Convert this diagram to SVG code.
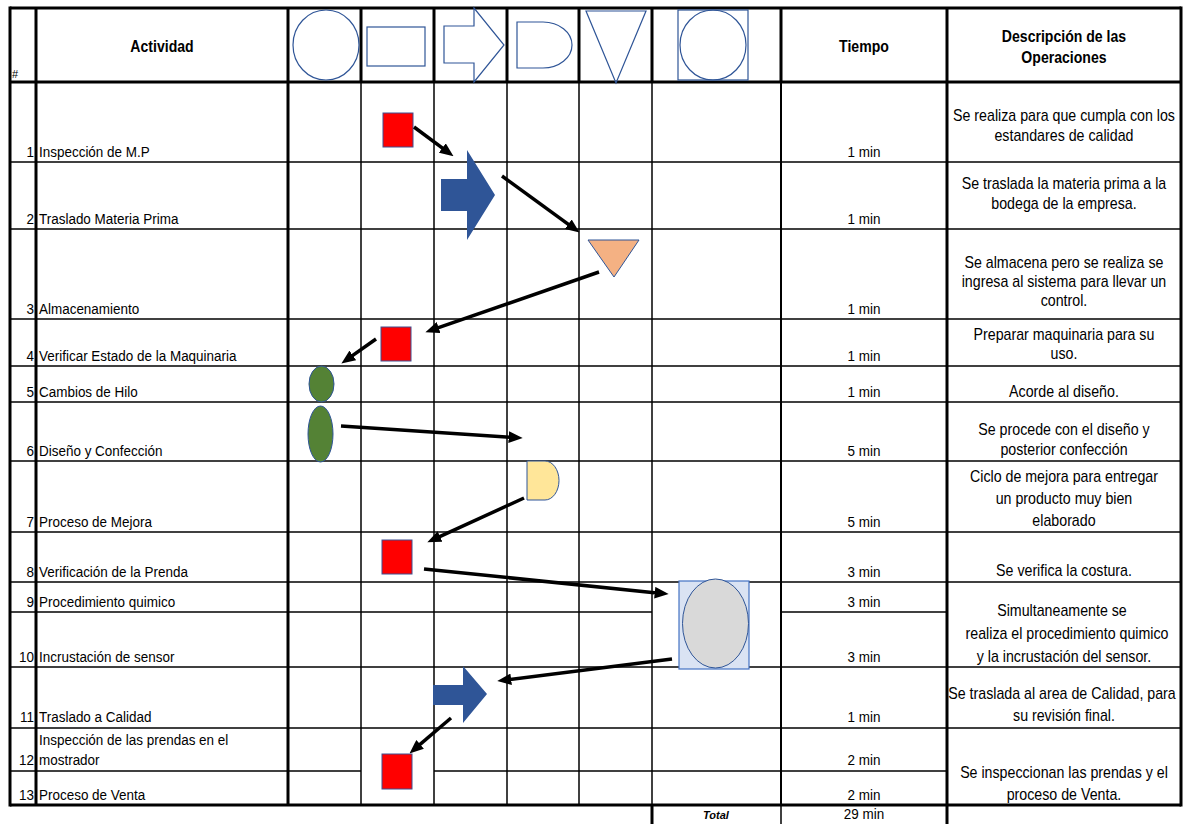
<svg xmlns="http://www.w3.org/2000/svg" width="1183" height="824" viewBox="0 0 1183 824">
<style>
.bg{fill:#ffffff}
.tk{stroke:#000;stroke-width:3;fill:none}
.md{stroke:#000;stroke-width:2;fill:none}
.tn{stroke:#000;stroke-width:1.5;fill:none}
.t{font-family:"Liberation Sans",Arial,sans-serif;font-size:15.3px;fill:#000}
.n{font-family:"Liberation Sans",Arial,sans-serif;font-size:15.3px;fill:#000;text-anchor:end}
.c{font-family:"Liberation Sans",Arial,sans-serif;font-size:15.3px;fill:#000;text-anchor:middle}
.d{font-family:"Liberation Sans",Arial,sans-serif;font-size:15.8px;fill:#000;text-anchor:middle}
.h{font-family:"Liberation Sans",Arial,sans-serif;font-size:16px;font-weight:bold;fill:#000;text-anchor:middle}
.sym{fill:none;stroke:#2F5597;stroke-width:1.2}
.red{fill:#FF0000;stroke:#3F4F8F;stroke-width:1}
.blu{fill:#2F5597;stroke:none}
.grn{fill:#548235;stroke:#2F5597;stroke-width:1}
.con{stroke:#000;stroke-width:3.5;fill:none;marker-end:url(#ah)}
</style>
<defs>
<marker id="ah" viewBox="0 0 12 10" refX="6" refY="5" markerWidth="4" markerHeight="3.33" orient="auto" markerUnits="strokeWidth">
<path d="M0,0 L12,5 L0,10 Z" fill="#000"/>
</marker>
</defs>
<rect class="bg" x="0" y="0" width="1183" height="824"/>

<g id="grid">
<line class="tn" x1="10" y1="162" x2="1181" y2="162"/>
<line class="tn" x1="10" y1="229" x2="1181" y2="229"/>
<line class="tn" x1="10" y1="319" x2="1181" y2="319"/>
<line class="tn" x1="10" y1="366" x2="1181" y2="366"/>
<line class="tn" x1="10" y1="402" x2="1181" y2="402"/>
<line class="tn" x1="10" y1="461" x2="1181" y2="461"/>
<line class="tn" x1="10" y1="532" x2="1181" y2="532"/>
<line class="tn" x1="10" y1="582" x2="1181" y2="582"/>
<line class="tn" x1="10" y1="612" x2="652" y2="612"/>
<line class="tn" x1="781" y1="612" x2="947" y2="612"/>
<line class="tn" x1="10" y1="667" x2="1181" y2="667"/>
<line class="tn" x1="10" y1="728" x2="1181" y2="728"/>
<line class="tn" x1="10" y1="771" x2="361" y2="771"/>
<line class="tn" x1="434" y1="771" x2="947" y2="771"/>
<line class="tn" x1="361" y1="82" x2="361" y2="805"/>
<line class="tn" x1="434" y1="82" x2="434" y2="805"/>
<line class="tn" x1="507" y1="82" x2="507" y2="805"/>
<line class="tn" x1="579" y1="82" x2="579" y2="805"/>
<line class="tn" x1="652" y1="82" x2="652" y2="805"/>
<line class="md" x1="781" y1="82" x2="781" y2="805"/>
<line class="tn" x1="781" y1="805" x2="781" y2="824"/>
<line class="tk" x1="361" y1="8" x2="361" y2="82"/>
<line class="tk" x1="434" y1="8" x2="434" y2="82"/>
<line class="tk" x1="507" y1="8" x2="507" y2="82"/>
<line class="tk" x1="579" y1="8" x2="579" y2="82"/>
<line class="tk" x1="652" y1="8" x2="652" y2="82"/>
<line class="tk" x1="781" y1="8" x2="781" y2="82"/>
<line class="tk" x1="652" y1="805" x2="652" y2="824"/>
<line class="tk" x1="10" y1="8" x2="1181" y2="8"/>
<line class="tk" x1="10" y1="82" x2="1181" y2="82"/>
<line class="tk" x1="10" y1="805" x2="1181" y2="805"/>
<line class="tk" x1="10" y1="6.5" x2="10" y2="806.5"/>
<line class="tk" x1="36" y1="8" x2="36" y2="805"/>
<line class="tk" x1="288" y1="8" x2="288" y2="805"/>
<line class="tk" x1="947" y1="8" x2="947" y2="824"/>
<line class="tk" x1="1181" y1="6.5" x2="1181" y2="806.5"/>
</g>

<g id="header">
<text x="12" y="78" style="font-family:'Liberation Sans',Arial,sans-serif;font-size:11px">#</text>
<g transform="scale(0.88 1)">
<text class="h" x="184.1" y="52">Actividad</text>
<text class="h" x="981.8" y="52">Tiempo</text>
<text class="h" x="1209.1" y="42">Descripción de las</text>
<text class="h" x="1209.1" y="63">Operaciones</text>
</g>
<ellipse class="sym" cx="326" cy="45" rx="33" ry="35"/>
<rect class="sym" x="367" y="27" width="58" height="39"/>
<polygon class="sym" points="444,26 474,26 474,8 504,45 474,82 474,63 444,63"/>
<path class="sym" d="M517,22 H543 A29,23 0 0 1 543,68 H517 Z"/>
<polygon class="sym" points="586,11 646,11 616,83"/>
<rect class="sym" x="678" y="10" width="70" height="70"/>
<ellipse class="sym" cx="713" cy="45" rx="33" ry="35"/>
</g>

<g id="activities" transform="scale(0.88 1)">
<text class="n" x="38.64" y="157">1</text><text class="t" x="44.32" y="157">Inspección de M.P</text>
<text class="n" x="38.64" y="224">2</text><text class="t" x="44.32" y="224">Traslado Materia Prima</text>
<text class="n" x="38.64" y="314">3</text><text class="t" x="44.32" y="314">Almacenamiento</text>
<text class="n" x="38.64" y="361">4</text><text class="t" x="44.32" y="361">Verificar Estado de la Maquinaria</text>
<text class="n" x="38.64" y="397">5</text><text class="t" x="44.32" y="397">Cambios de Hilo</text>
<text class="n" x="38.64" y="456">6</text><text class="t" x="44.32" y="456">Diseño y Confección</text>
<text class="n" x="38.64" y="527">7</text><text class="t" x="44.32" y="527">Proceso de Mejora</text>
<text class="n" x="38.64" y="577">8</text><text class="t" x="44.32" y="577">Verificación de la Prenda</text>
<text class="n" x="38.64" y="607">9</text><text class="t" x="44.32" y="607">Procedimiento quimico</text>
<text class="n" x="38.64" y="662">10</text><text class="t" x="44.32" y="662">Incrustación de sensor</text>
<text class="n" x="38.64" y="722">11</text><text class="t" x="44.32" y="722">Traslado a Calidad</text>
<text class="t" x="44.32" y="745">Inspección de las prendas en el</text>
<text class="n" x="38.64" y="765">12</text><text class="t" x="44.32" y="765">mostrador</text>
<text class="n" x="38.64" y="800">13</text><text class="t" x="44.32" y="800">Proceso de Venta</text>
</g>

<g id="times">
<g transform="scale(0.88 1)">
<text class="c" x="981.8" y="157">1 min</text>
<text class="c" x="981.8" y="224">1 min</text>
<text class="c" x="981.8" y="314">1 min</text>
<text class="c" x="981.8" y="361">1 min</text>
<text class="c" x="981.8" y="397">1 min</text>
<text class="c" x="981.8" y="456">5 min</text>
<text class="c" x="981.8" y="527">5 min</text>
<text class="c" x="981.8" y="577">3 min</text>
<text class="c" x="981.8" y="607">3 min</text>
<text class="c" x="981.8" y="662">3 min</text>
<text class="c" x="981.8" y="722">1 min</text>
<text class="c" x="981.8" y="765">2 min</text>
<text class="c" x="981.8" y="800">2 min</text>
<text class="c" x="981.8" y="819">29 min</text>
</g>
<text x="716" y="819" style="font-family:'Liberation Sans',Arial,sans-serif;font-size:11px;font-weight:bold;font-style:italic;text-anchor:middle">Total</text>
</g>

<g id="descriptions" transform="scale(0.9 1)">
<text class="d" x="1182.2" y="121">Se realiza para que cumpla con los</text>
<text class="d" x="1182.2" y="141">estandares de calidad</text>
<text class="d" x="1182.2" y="189">Se traslada la materia prima a la</text>
<text class="d" x="1182.2" y="209">bodega de la empresa.</text>
<text class="d" x="1182.2" y="268">Se almacena pero se realiza se</text>
<text class="d" x="1182.2" y="287">ingresa al sistema para llevar un</text>
<text class="d" x="1182.2" y="306">control.</text>
<text class="d" x="1182.2" y="340">Preparar maquinaria para su</text>
<text class="d" x="1182.2" y="359">uso.</text>
<text class="d" x="1182.2" y="397">Acorde al diseño.</text>
<text class="d" x="1182.2" y="435">Se procede con el diseño y</text>
<text class="d" x="1182.2" y="455">posterior confección</text>
<text class="d" x="1182.2" y="482">Ciclo de mejora para entregar</text>
<text class="d" x="1182.2" y="504">un producto muy bien</text>
<text class="d" x="1182.2" y="526">elaborado</text>
<text class="d" x="1182.2" y="576">Se verifica la costura.</text>
<text class="d" x="1180" y="616">Simultaneamente se</text>
<text class="d" x="1185.6" y="639">realiza el procedimiento quimico</text>
<text class="d" x="1182.2" y="662">y la incrustación del sensor.</text>
<text class="d" x="1180" y="699">Se traslada al area de Calidad, para</text>
<text class="d" x="1182.2" y="721">su revisión final.</text>
<text class="d" x="1182.2" y="778">Se inspeccionan las prendas y el</text>
<text class="d" x="1182.2" y="800">proceso de Venta.</text>
</g>

<g id="n1"><rect class="red" x="383" y="113" width="30" height="34"/></g>
<g id="n2"><polygon class="blu" points="441,179 467,179 467,150 495,195 467,240 467,211 441,211"/></g>
<g id="n3"><polygon points="588,240 639,240 614,277" fill="#F4B183" stroke="#2F5597" stroke-width="1"/></g>
<g id="n4"><rect class="red" x="381" y="327" width="30" height="34"/></g>
<g id="n5"><ellipse class="grn" cx="321.5" cy="384" rx="12.5" ry="18"/></g>
<g id="n6"><ellipse class="grn" cx="320.5" cy="434" rx="12.5" ry="28"/></g>
<g id="n7"><path d="M527,461 H545 A14,19.5 0 0 1 545,500 H527 Z" fill="#FFE699" stroke="#2F5597" stroke-width="1"/></g>
<g id="n8"><rect class="red" x="382" y="540" width="30" height="34"/></g>
<g id="n9"><rect x="679" y="581" width="70" height="88" fill="#DAE3F3" stroke="#4472C4" stroke-width="1.2"/><ellipse cx="715.5" cy="623.5" rx="33" ry="44.5" fill="#D9D9D9" stroke="#2F5597" stroke-width="1"/></g>
<g id="n11"><polygon class="blu" points="433,685 463,685 463,666 487,694 463,723 463,705 433,705"/></g>
<g id="n12"><rect class="red" x="382" y="754" width="30" height="35"/></g>

<g id="connectors">
<line class="con" x1="414" y1="127" x2="447.9" y2="152.2"/>
<line class="con" x1="502" y1="176" x2="573.9" y2="228.3"/>
<line class="con" x1="599" y1="272" x2="432" y2="329.9"/>
<line class="con" x1="376" y1="339" x2="347.1" y2="359.4"/>
<line class="con" x1="341" y1="426" x2="515.7" y2="437.6"/>
<line class="con" x1="524" y1="498" x2="433.7" y2="539.4"/>
<line class="con" x1="424" y1="569" x2="661.7" y2="593.4"/>
<line class="con" x1="672" y1="659" x2="504.2" y2="680.2"/>
<line class="con" x1="451" y1="718" x2="414.8" y2="748.9"/>
</g>
</svg>
